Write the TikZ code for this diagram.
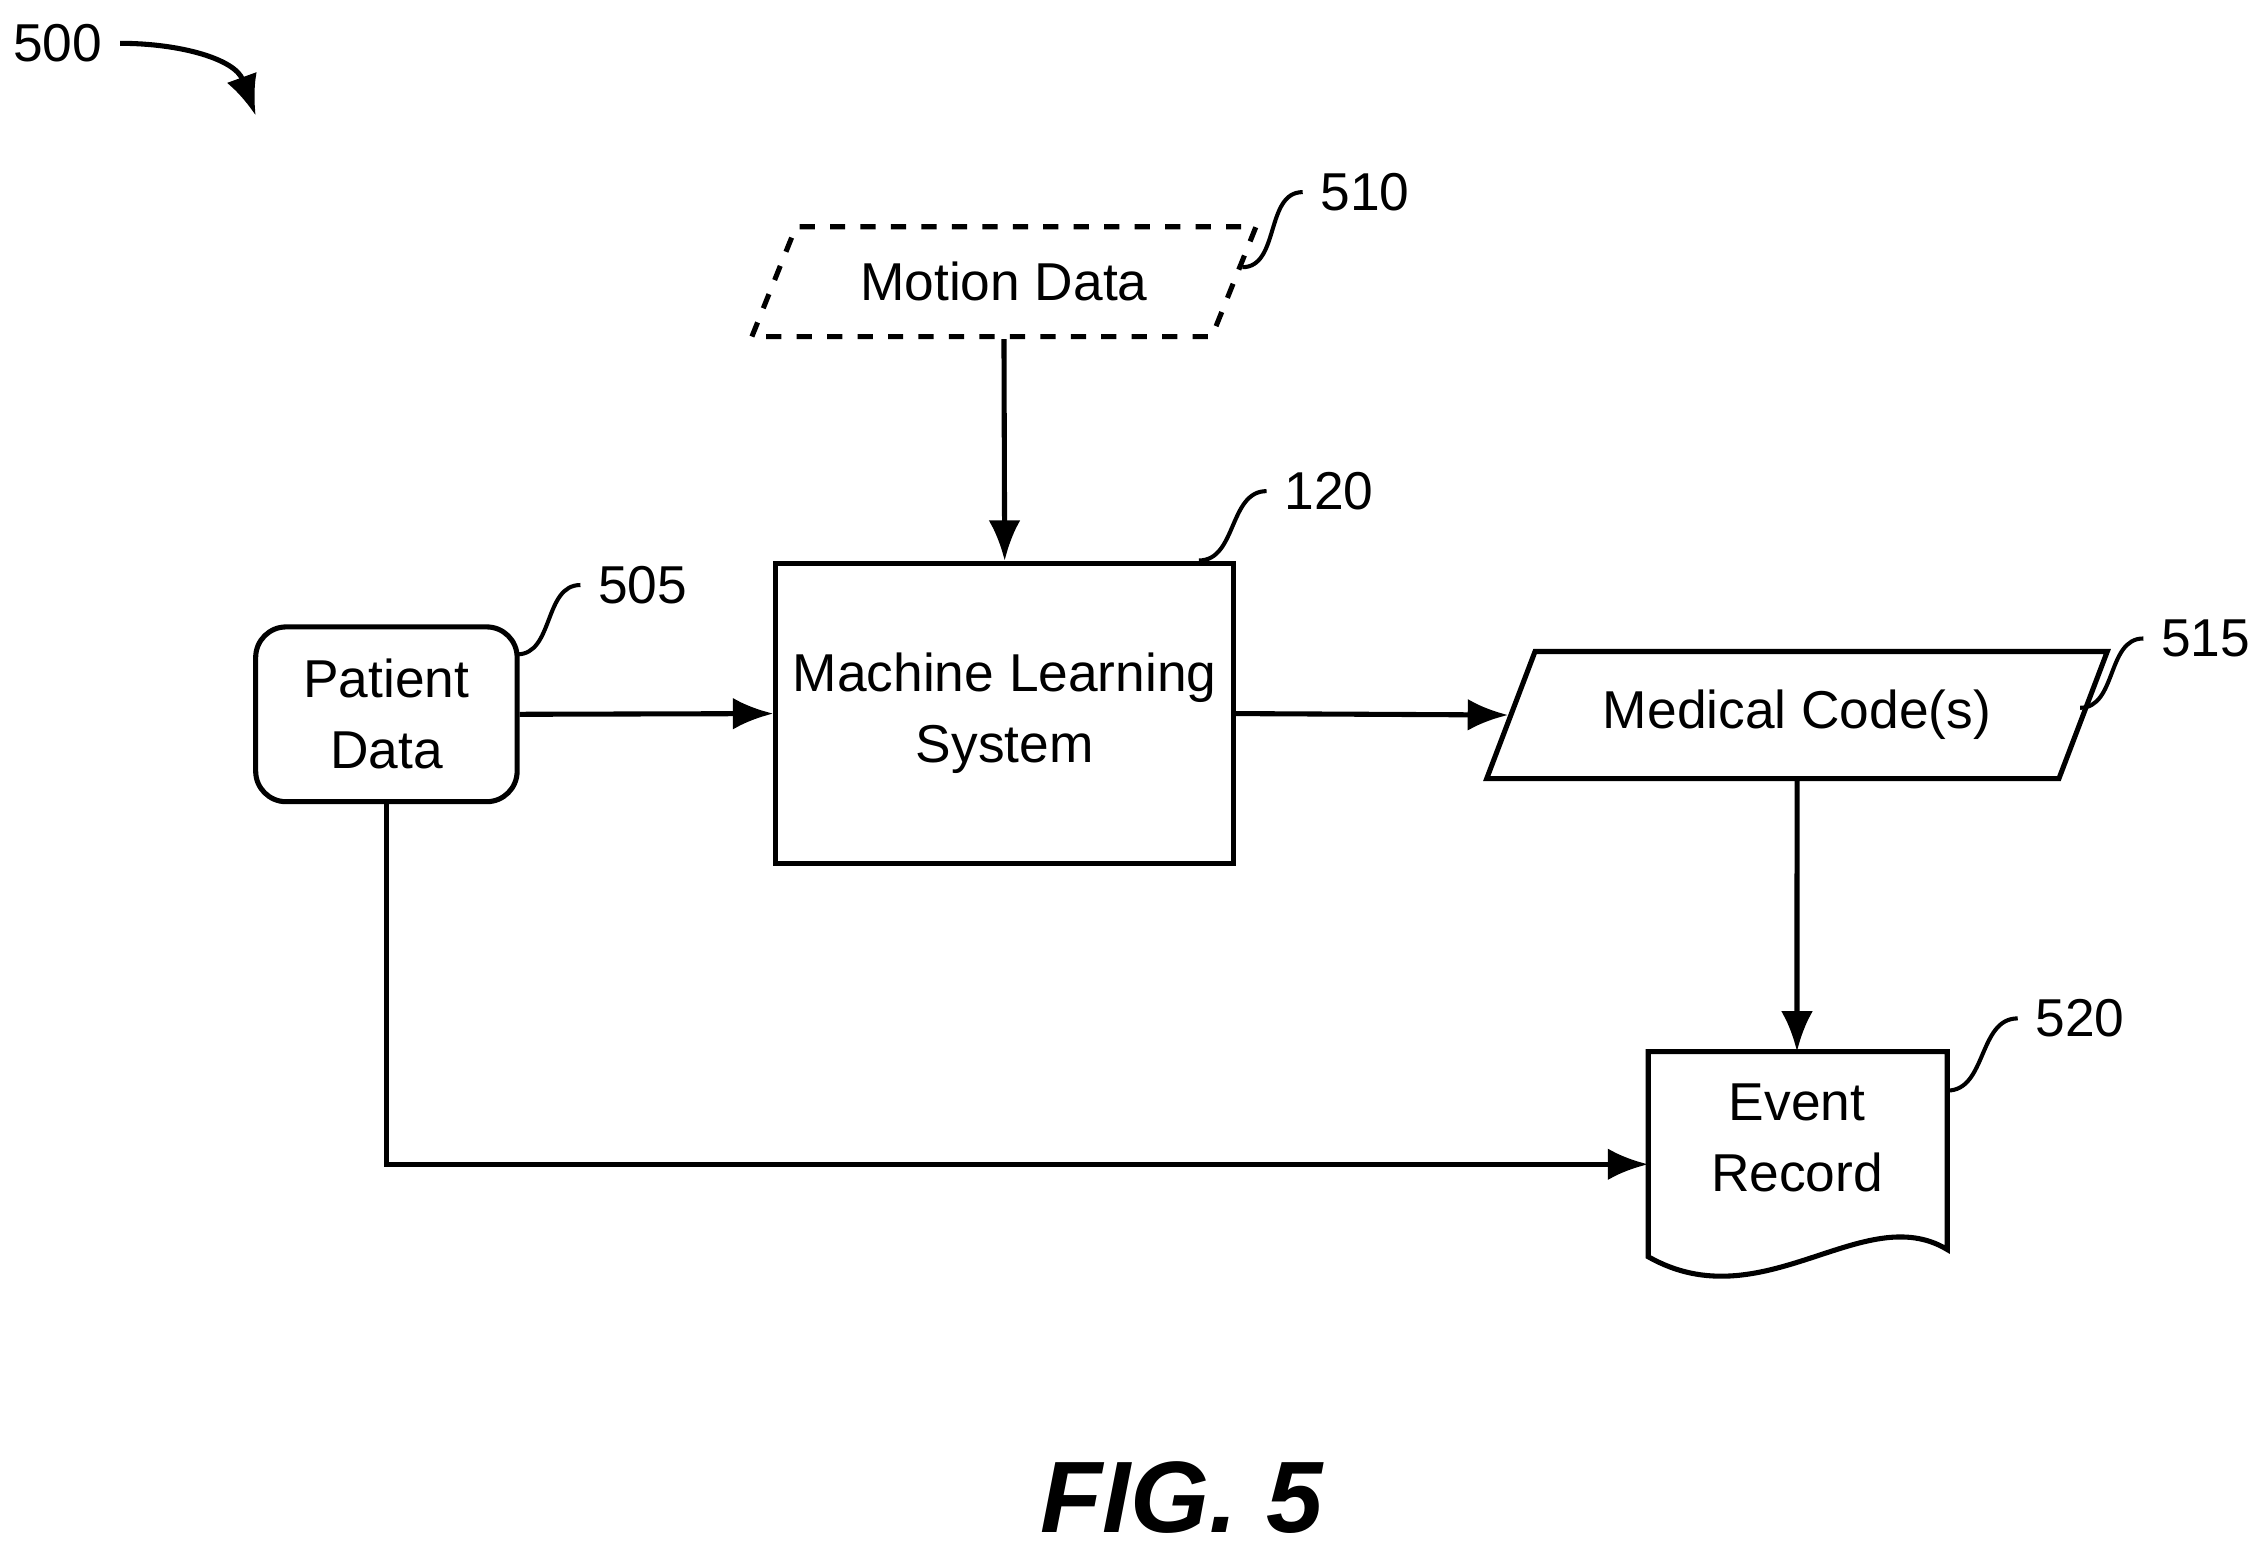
\documentclass[tikz,border=0pt]{standalone}
\usepackage{fontspec}
\setmainfont{Liberation Sans}
\usetikzlibrary{shapes.geometric,arrows.meta,positioning}
\tikzset{
  box/.style={draw,line width=1pt,align=center,font=\fontsize{10.5}{14}\selectfont},
  io/.style={box,trapezium,trapezium left angle=65,trapezium right angle=115,trapezium stretches=true},
  arr/.style={line width=1pt,-{Latex[length=2.8mm,width=2.2mm]}},
  lead/.style={line width=0.8pt,out=0,in=180},
  num/.style={font=\fontsize{10.5}{12}\selectfont}
}
\begin{document}
\begin{tikzpicture}
\useasboundingbox (0,-10.75) rectangle (15.68,0);
% blocks
\node[io,dashed,minimum width=3.5cm,minimum height=0.76cm] (motion) at (6.95,-1.95) {Motion Data};
\node[box,minimum width=3.11cm,minimum height=2.08cm] (mls) at (6.955,-4.94) {Machine Learning\\System};
\node[box,rounded corners=6pt,minimum width=1.81cm,minimum height=1.21cm] (patient) at (2.675,-4.945) {Patient\\Data};
\node[io,minimum width=4.32cm,minimum height=0.88cm] (codes) at (12.44,-4.95) {Medical Code(s)};
\draw[line width=1pt] (11.41,-7.28) -- (13.48,-7.28) -- (13.48,-8.65)
  .. controls (12.9,-8.3) and (12.2,-9.15) .. (11.41,-8.70) -- cycle;
\coordinate (rec) at (12.44,-7.28);
\coordinate (recw) at (11.41,-8.06);
\node[num,align=center,font=\fontsize{10.5}{14}\selectfont] (event) at (12.44,-7.88) {Event\\Record};
% connectors
\draw[arr] (motion.south) -- (mls.north);
\draw[arr] (patient.east) -- (mls.west);
\draw[arr] (mls.east) -- (codes.west);
\draw[arr] (codes.south) -- (rec);
\draw[arr] (patient.south) |- (recw);
% reference numerals
\node[num] (n500) at (0.40,-0.30) {500};
\coordinate (t500) at (1.77,-0.80);
\draw[arr] (n500.east) to[out=0,in=110] (t500);
\node[num] (n510) at (9.45,-1.33) {510};
\draw[lead] (8.60,-1.85) to (n510.west);
\node[num] (n120) at (9.20,-3.40) {120};
\draw[lead] (8.30,-3.88) to (n120.west);
\node[num] (n505) at (4.45,-4.05) {505};
\draw[lead] (3.58,-4.53) to (n505.west);
\node[num] (n515) at (15.27,-4.42) {515};
\draw[lead] (14.40,-4.90) to (n515.west);
\node[num] (n520) at (14.40,-7.05) {520};
\draw[lead] (13.48,-7.55) to (n520.west);
\node[font=\fontsize{20}{24}\selectfont\bfseries\itshape] (fig) at (8.18,-10.37) {FIG. 5};
\end{tikzpicture}
\end{document}
